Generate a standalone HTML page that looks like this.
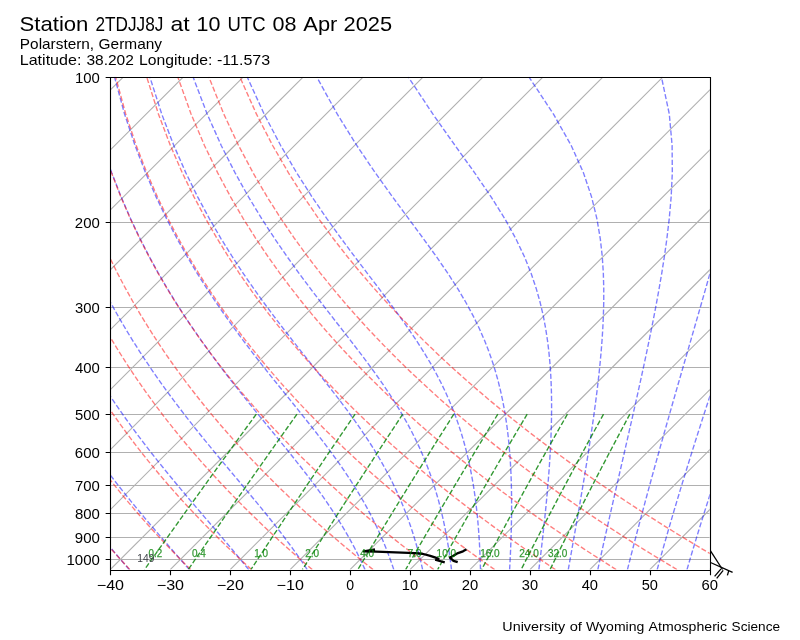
<!DOCTYPE html>
<html><head><meta charset="utf-8"><style>html,body{margin:0;padding:0;background:#fff;}svg{display:block;will-change:transform;}</style></head>
<body><svg width="800" height="640" viewBox="0 0 800 640">
<rect width="800" height="640" fill="#fff"/>
<defs><clipPath id="c"><rect x="110.26" y="76.8" width="599.48" height="492.8"/></clipPath></defs>
<g clip-path="url(#c)">
<line x1="110.26" y1="77.5" x2="709.74" y2="77.5" stroke="#b0b0b0" stroke-width="1.11"/>
<line x1="110.26" y1="222.5" x2="709.74" y2="222.5" stroke="#b0b0b0" stroke-width="1.11"/>
<line x1="110.26" y1="307.5" x2="709.74" y2="307.5" stroke="#b0b0b0" stroke-width="1.11"/>
<line x1="110.26" y1="367.5" x2="709.74" y2="367.5" stroke="#b0b0b0" stroke-width="1.11"/>
<line x1="110.26" y1="414.5" x2="709.74" y2="414.5" stroke="#b0b0b0" stroke-width="1.11"/>
<line x1="110.26" y1="452.5" x2="709.74" y2="452.5" stroke="#b0b0b0" stroke-width="1.11"/>
<line x1="110.26" y1="485.5" x2="709.74" y2="485.5" stroke="#b0b0b0" stroke-width="1.11"/>
<line x1="110.26" y1="513.5" x2="709.74" y2="513.5" stroke="#b0b0b0" stroke-width="1.11"/>
<line x1="110.26" y1="537.5" x2="709.74" y2="537.5" stroke="#b0b0b0" stroke-width="1.11"/>
<line x1="110.26" y1="559.5" x2="709.74" y2="559.5" stroke="#b0b0b0" stroke-width="1.11"/>
<line x1="-429.27" y1="569.6" x2="63.53" y2="76.8" stroke="#b0b0b0" stroke-width="1.11"/>
<line x1="-369.32" y1="569.6" x2="123.48" y2="76.8" stroke="#b0b0b0" stroke-width="1.11"/>
<line x1="-309.38" y1="569.6" x2="183.42" y2="76.8" stroke="#b0b0b0" stroke-width="1.11"/>
<line x1="-249.43" y1="569.6" x2="243.37" y2="76.8" stroke="#b0b0b0" stroke-width="1.11"/>
<line x1="-189.48" y1="569.6" x2="303.32" y2="76.8" stroke="#b0b0b0" stroke-width="1.11"/>
<line x1="-129.53" y1="569.6" x2="363.27" y2="76.8" stroke="#b0b0b0" stroke-width="1.11"/>
<line x1="-69.58" y1="569.6" x2="423.22" y2="76.8" stroke="#b0b0b0" stroke-width="1.11"/>
<line x1="-9.64" y1="569.6" x2="483.16" y2="76.8" stroke="#b0b0b0" stroke-width="1.11"/>
<line x1="50.31" y1="569.6" x2="543.11" y2="76.8" stroke="#b0b0b0" stroke-width="1.11"/>
<line x1="110.26" y1="569.6" x2="603.06" y2="76.8" stroke="#b0b0b0" stroke-width="1.11"/>
<line x1="170.21" y1="569.6" x2="663.01" y2="76.8" stroke="#b0b0b0" stroke-width="1.11"/>
<line x1="230.16" y1="569.6" x2="722.96" y2="76.8" stroke="#b0b0b0" stroke-width="1.11"/>
<line x1="290.1" y1="569.6" x2="782.9" y2="76.8" stroke="#b0b0b0" stroke-width="1.11"/>
<line x1="350.05" y1="569.6" x2="842.85" y2="76.8" stroke="#b0b0b0" stroke-width="1.11"/>
<line x1="410" y1="569.6" x2="902.8" y2="76.8" stroke="#b0b0b0" stroke-width="1.11"/>
<line x1="469.95" y1="569.6" x2="962.75" y2="76.8" stroke="#b0b0b0" stroke-width="1.11"/>
<line x1="529.9" y1="569.6" x2="1022.7" y2="76.8" stroke="#b0b0b0" stroke-width="1.11"/>
<line x1="589.84" y1="569.6" x2="1082.64" y2="76.8" stroke="#b0b0b0" stroke-width="1.11"/>
<line x1="649.79" y1="569.6" x2="1142.59" y2="76.8" stroke="#b0b0b0" stroke-width="1.11"/>
<line x1="709.74" y1="569.6" x2="1202.54" y2="76.8" stroke="#b0b0b0" stroke-width="1.11"/>
<g fill="none" stroke="#0000ff" stroke-opacity="0.5" stroke-width="1.39" stroke-dasharray="5.14 2.22">
<polyline points="129.34,569.6 125.94,565.69 122.5,561.71 119.01,557.66 115.48,553.52 111.9,549.3 108.28,544.99 104.61,540.59 100.9,536.1 97.15,531.51 93.35,526.82 89.51,522.02 85.62,517.1 81.7,512.07 77.73,506.92 73.72,501.63 69.66,496.21 65.56,490.65 61.43,484.93 57.24,479.05 53.02,473 48.75,466.78 44.45,460.36 40.1,453.74 35.71,446.9 31.27,439.83 26.8,432.52 22.28,424.94 17.73,417.08 13.14,408.91 8.51,400.41 3.84,391.55 -0.86,382.3 -5.58,372.62 -10.34,362.47 -15.12,351.81 -19.91,340.57 -24.71,328.7 -29.51,316.11 -34.29,302.73 -39.03,288.42 -43.71,273.07 -48.29,256.5 -52.74,238.52 -56.98,218.84 -60.93,197.12 -64.45,172.88 -67.34,145.48 -69.3,113.94 -69.8,76.8"/>
<polyline points="189.37,569.6 185.96,565.69 182.48,561.71 178.93,557.66 175.32,553.52 171.64,549.3 167.89,544.99 164.08,540.59 160.2,536.1 156.26,531.51 152.25,526.82 148.17,522.02 144.04,517.1 139.84,512.07 135.57,506.92 131.25,501.63 126.86,496.21 122.41,490.65 117.9,484.93 113.33,479.05 108.7,473 104.01,466.78 99.26,460.36 94.45,453.74 89.59,446.9 84.66,439.83 79.68,432.52 74.64,424.94 69.54,417.08 64.38,408.91 59.17,400.41 53.9,391.55 48.58,382.3 43.21,372.62 37.79,362.47 32.32,351.81 26.8,340.57 21.25,328.7 15.68,316.11 10.08,302.73 4.48,288.42 -1.1,273.07 -6.64,256.5 -12.09,238.52 -17.41,218.84 -22.51,197.12 -27.28,172.88 -31.53,145.48 -35,113.94 -37.2,76.8"/>
<polyline points="248.71,569.6 245.55,565.69 242.3,561.71 238.96,557.66 235.53,553.52 232,549.3 228.37,544.99 224.65,540.59 220.83,536.1 216.91,531.51 212.89,526.82 208.78,522.02 204.57,517.1 200.26,512.07 195.85,506.92 191.36,501.63 186.76,496.21 182.07,490.65 177.29,484.93 172.42,479.05 167.46,473 162.41,466.78 157.27,460.36 152.04,453.74 146.73,446.9 141.33,439.83 135.85,432.52 130.29,424.94 124.64,417.08 118.91,408.91 113.1,400.41 107.2,391.55 101.23,382.3 95.18,372.62 89.06,362.47 82.85,351.81 76.58,340.57 70.23,328.7 63.82,316.11 57.36,302.73 50.85,288.42 44.31,273.07 37.76,256.5 31.23,238.52 24.77,218.84 18.43,197.12 12.34,172.88 6.62,145.48 1.55,113.94 -2.45,76.8"/>
<polyline points="307.2,569.6 304.62,565.69 301.93,561.71 299.14,557.66 296.24,553.52 293.22,549.3 290.08,544.99 286.82,540.59 283.43,536.1 279.91,531.51 276.27,526.82 272.48,522.02 268.56,517.1 264.49,512.07 260.28,506.92 255.93,501.63 251.44,496.21 246.8,490.65 242.01,484.93 237.08,479.05 232,473 226.79,466.78 221.43,460.36 215.93,453.74 210.29,446.9 204.51,439.83 198.61,432.52 192.57,424.94 186.41,417.08 180.12,408.91 173.7,400.41 167.16,391.55 160.51,382.3 153.73,372.62 146.84,362.47 139.83,351.81 132.71,340.57 125.48,328.7 118.15,316.11 110.71,302.73 103.17,288.42 95.55,273.07 87.86,256.5 80.11,238.52 72.36,218.84 64.64,197.12 57.04,172.88 49.69,145.48 42.8,113.94 36.77,76.8"/>
<polyline points="365.01,569.6 363.24,565.69 361.39,561.71 359.45,557.66 357.4,553.52 355.25,549.3 352.99,544.99 350.6,540.59 348.1,536.1 345.46,531.51 342.68,526.82 339.75,522.02 336.66,517.1 333.42,512.07 330,506.92 326.4,501.63 322.61,496.21 318.63,490.65 314.44,484.93 310.04,479.05 305.43,473 300.6,466.78 295.54,460.36 290.25,453.74 284.73,446.9 278.98,439.83 273.01,432.52 266.8,424.94 260.36,417.08 253.7,408.91 246.83,400.41 239.74,391.55 232.45,382.3 224.95,372.62 217.26,362.47 209.37,351.81 201.3,340.57 193.05,328.7 184.62,316.11 176.02,302.73 167.25,288.42 158.32,273.07 149.23,256.5 140.01,238.52 130.67,218.84 121.25,197.12 111.81,172.88 102.45,145.48 93.35,113.94 84.81,76.8"/>
<polyline points="393.8,569.6 392.48,565.69 391.09,561.71 389.62,557.66 388.07,553.52 386.43,549.3 384.7,544.99 382.86,540.59 380.91,536.1 378.85,531.51 376.66,526.82 374.34,522.02 371.88,517.1 369.26,512.07 366.48,506.92 363.52,501.63 360.38,496.21 357.04,490.65 353.49,484.93 349.72,479.05 345.71,473 341.46,466.78 336.94,460.36 332.16,453.74 327.09,446.9 321.74,439.83 316.09,432.52 310.15,424.94 303.9,417.08 297.34,408.91 290.48,400.41 283.33,391.55 275.88,382.3 268.14,372.62 260.13,362.47 251.85,351.81 243.31,340.57 234.52,328.7 225.49,316.11 216.22,302.73 206.72,288.42 197.01,273.07 187.08,256.5 176.95,238.52 166.64,218.84 156.18,197.12 145.61,172.88 135.01,145.48 124.53,113.94 114.46,76.8"/>
<polyline points="422.61,569.6 421.73,565.69 420.79,561.71 419.8,557.66 418.75,553.52 417.62,549.3 416.43,544.99 415.15,540.59 413.79,536.1 412.34,531.51 410.79,526.82 409.13,522.02 407.35,517.1 405.45,512.07 403.41,506.92 401.22,501.63 398.87,496.21 396.34,490.65 393.63,484.93 390.71,479.05 387.57,473 384.18,466.78 380.54,460.36 376.62,453.74 372.4,446.9 367.85,439.83 362.97,432.52 357.74,424.94 352.12,417.08 346.12,408.91 339.71,400.41 332.89,391.55 325.66,382.3 318.01,372.62 309.95,362.47 301.48,351.81 292.63,340.57 283.4,328.7 273.81,316.11 263.87,302.73 253.6,288.42 243.02,273.07 232.13,256.5 220.95,238.52 209.5,218.84 197.8,197.12 185.88,172.88 173.81,145.48 161.7,113.94 149.79,76.8"/>
<polyline points="451.49,569.6 451.02,565.69 450.51,561.71 449.97,557.66 449.38,553.52 448.74,549.3 448.06,544.99 447.33,540.59 446.53,536.1 445.67,531.51 444.74,526.82 443.74,522.02 442.65,517.1 441.47,512.07 440.19,506.92 438.8,501.63 437.29,496.21 435.65,490.65 433.86,484.93 431.91,479.05 429.79,473 427.47,466.78 424.93,460.36 422.15,453.74 419.11,446.9 415.78,439.83 412.12,432.52 408.11,424.94 403.72,417.08 398.9,408.91 393.62,400.41 387.85,391.55 381.55,382.3 374.7,372.62 367.27,362.47 359.24,351.81 350.61,340.57 341.39,328.7 331.57,316.11 321.2,302.73 310.28,288.42 298.86,273.07 286.96,256.5 274.6,238.52 261.83,218.84 248.65,197.12 235.1,172.88 221.24,145.48 207.14,113.94 192.99,76.8"/>
<polyline points="480.48,569.6 480.38,565.69 480.25,561.71 480.11,557.66 479.94,553.52 479.75,549.3 479.53,544.99 479.28,540.59 478.99,536.1 478.67,531.51 478.3,526.82 477.89,522.02 477.43,517.1 476.92,512.07 476.34,506.92 475.7,501.63 474.98,496.21 474.18,490.65 473.29,484.93 472.29,479.05 471.17,473 469.93,466.78 468.53,460.36 466.98,453.74 465.23,446.9 463.28,439.83 461.08,432.52 458.62,424.94 455.85,417.08 452.73,408.91 449.21,400.41 445.24,391.55 440.77,382.3 435.72,372.62 430.03,362.47 423.62,351.81 416.43,340.57 408.4,328.7 399.48,316.11 389.63,302.73 378.85,288.42 367.15,273.07 354.58,256.5 341.19,238.52 327.04,218.84 312.19,197.12 296.71,172.88 280.65,145.48 264.07,113.94 247.12,76.8"/>
<polyline points="509.61,569.6 509.82,565.69 510.03,561.71 510.23,557.66 510.42,553.52 510.61,549.3 510.78,544.99 510.95,540.59 511.1,536.1 511.23,531.51 511.35,526.82 511.45,522.02 511.53,517.1 511.58,512.07 511.61,506.92 511.6,501.63 511.56,496.21 511.48,490.65 511.36,484.93 511.18,479.05 510.95,473 510.64,466.78 510.27,460.36 509.8,453.74 509.23,446.9 508.55,439.83 507.73,432.52 506.76,424.94 505.6,417.08 504.23,408.91 502.62,400.41 500.71,391.55 498.47,382.3 495.81,372.62 492.68,362.47 488.97,351.81 484.59,340.57 479.41,328.7 473.29,316.11 466.06,302.73 457.58,288.42 447.7,273.07 436.29,256.5 423.29,238.52 408.74,218.84 392.7,197.12 375.33,172.88 356.77,145.48 337.17,113.94 316.67,76.8"/>
<polyline points="538.88,569.6 539.36,565.69 539.84,561.71 540.33,557.66 540.82,553.52 541.32,549.3 541.82,544.99 542.32,540.59 542.83,536.1 543.34,531.51 543.85,526.82 544.37,522.02 544.88,517.1 545.39,512.07 545.91,506.92 546.42,501.63 546.92,496.21 547.42,490.65 547.91,484.93 548.39,479.05 548.86,473 549.31,466.78 549.74,460.36 550.14,453.74 550.52,446.9 550.85,439.83 551.13,432.52 551.36,424.94 551.52,417.08 551.6,408.91 551.57,400.41 551.42,391.55 551.11,382.3 550.62,372.62 549.89,362.47 548.88,351.81 547.51,340.57 545.7,328.7 543.32,316.11 540.22,302.73 536.2,288.42 531.01,273.07 524.33,256.5 515.76,238.52 504.88,218.84 491.27,197.12 474.68,172.88 455.09,145.48 432.78,113.94 408.19,76.8"/>
<polyline points="568.28,569.6 568.98,565.69 569.68,561.71 570.4,557.66 571.13,553.52 571.88,549.3 572.64,544.99 573.42,540.59 574.21,536.1 575.01,531.51 575.84,526.82 576.68,522.02 577.53,517.1 578.4,512.07 579.3,506.92 580.2,501.63 581.13,496.21 582.07,490.65 583.03,484.93 584.01,479.05 585.01,473 586.03,466.78 587.07,460.36 588.12,453.74 589.19,446.9 590.27,439.83 591.37,432.52 592.47,424.94 593.59,417.08 594.71,408.91 595.84,400.41 596.95,391.55 598.05,382.3 599.13,372.62 600.16,362.47 601.13,351.81 602.02,340.57 602.78,328.7 603.37,316.11 603.73,302.73 603.76,288.42 603.33,273.07 602.26,256.5 600.26,238.52 596.92,218.84 591.64,197.12 583.49,172.88 571.22,145.48 553.35,113.94 528.84,76.8"/>
<polyline points="597.81,569.6 598.67,565.69 599.55,561.71 600.45,557.66 601.37,553.52 602.31,549.3 603.27,544.99 604.26,540.59 605.27,536.1 606.3,531.51 607.36,526.82 608.45,522.02 609.57,517.1 610.71,512.07 611.88,506.92 613.09,501.63 614.33,496.21 615.6,490.65 616.91,484.93 618.26,479.05 619.65,473 621.08,466.78 622.55,460.36 624.07,453.74 625.63,446.9 627.25,439.83 628.92,432.52 630.64,424.94 632.42,417.08 634.27,408.91 636.17,400.41 638.15,391.55 640.19,382.3 642.3,372.62 644.49,362.47 646.76,351.81 649.1,340.57 651.51,328.7 654,316.11 656.55,302.73 659.15,288.42 661.77,273.07 664.38,256.5 666.9,238.52 669.22,218.84 671.14,197.12 672.32,172.88 672.11,145.48 669.29,113.94 661.39,76.8"/>
<polyline points="627.45,569.6 628.44,565.69 629.45,561.71 630.48,557.66 631.54,553.52 632.63,549.3 633.74,544.99 634.89,540.59 636.06,536.1 637.26,531.51 638.5,526.82 639.77,522.02 641.08,517.1 642.42,512.07 643.8,506.92 645.22,501.63 646.69,496.21 648.2,490.65 649.76,484.93 651.37,479.05 653.04,473 654.76,466.78 656.54,460.36 658.39,453.74 660.3,446.9 662.28,439.83 664.34,432.52 666.49,424.94 668.72,417.08 671.05,408.91 673.48,400.41 676.02,391.55 678.68,382.3 681.46,372.62 684.39,362.47 687.47,351.81 690.71,340.57 694.14,328.7 697.77,316.11 701.62,302.73 705.72,288.42 710.08,273.07 714.75,256.5 719.74,238.52 725.11,218.84 730.86,197.12 737.03,172.88 743.59,145.48 750.42,113.94 757.11,76.8"/>
<polyline points="657.17,569.6 658.26,565.69 659.36,561.71 660.5,557.66 661.66,553.52 662.86,549.3 664.08,544.99 665.34,540.59 666.63,536.1 667.95,531.51 669.31,526.82 670.71,522.02 672.16,517.1 673.64,512.07 675.17,506.92 676.75,501.63 678.37,496.21 680.05,490.65 681.79,484.93 683.58,479.05 685.44,473 687.36,466.78 689.35,460.36 691.42,453.74 693.57,446.9 695.8,439.83 698.13,432.52 700.56,424.94 703.09,417.08 705.74,408.91 708.51,400.41 711.41,391.55 714.47,382.3 717.69,372.62 721.08,362.47 724.67,351.81 728.47,340.57 732.52,328.7 736.84,316.11 741.46,302.73 746.42,288.42 751.78,273.07 757.6,256.5 763.94,238.52 770.91,218.84 778.62,197.12 787.24,172.88 796.96,145.48 808.07,113.94 820.97,76.8"/>
<polyline points="686.98,569.6 688.12,565.69 689.3,561.71 690.5,557.66 691.74,553.52 693,549.3 694.3,544.99 695.63,540.59 697,536.1 698.41,531.51 699.86,526.82 701.35,522.02 702.88,517.1 704.46,512.07 706.09,506.92 707.77,501.63 709.51,496.21 711.3,490.65 713.15,484.93 715.07,479.05 717.05,473 719.11,466.78 721.24,460.36 723.45,453.74 725.76,446.9 728.15,439.83 730.65,432.52 733.26,424.94 735.99,417.08 738.84,408.91 741.83,400.41 744.97,391.55 748.27,382.3 751.76,372.62 755.44,362.47 759.35,351.81 763.5,340.57 767.92,328.7 772.65,316.11 777.72,302.73 783.2,288.42 789.13,273.07 795.6,256.5 802.69,238.52 810.53,218.84 819.28,197.12 829.15,172.88 840.44,145.48 853.57,113.94 869.21,76.8"/>
<polyline points="716.84,569.6 718.03,565.69 719.25,561.71 720.49,557.66 721.77,553.52 723.08,549.3 724.43,544.99 725.81,540.59 727.23,536.1 728.69,531.51 730.19,526.82 731.74,522.02 733.33,517.1 734.97,512.07 736.66,506.92 738.41,501.63 740.21,496.21 742.07,490.65 743.99,484.93 745.98,479.05 748.04,473 750.18,466.78 752.4,460.36 754.71,453.74 757.1,446.9 759.6,439.83 762.21,432.52 764.92,424.94 767.77,417.08 770.74,408.91 773.86,400.41 777.14,391.55 780.6,382.3 784.25,372.62 788.1,362.47 792.19,351.81 796.54,340.57 801.18,328.7 806.15,316.11 811.49,302.73 817.26,288.42 823.51,273.07 830.35,256.5 837.85,238.52 846.17,218.84 855.48,197.12 866,172.88 878.09,145.48 892.23,113.94 909.18,76.8"/>
</g>
<g fill="none" stroke="#ff0000" stroke-opacity="0.5" stroke-width="1.39" stroke-dasharray="5.14 2.22">
<polyline points="129.88,569.6 126.26,565.69 122.61,561.71 118.93,557.66 115.23,553.52 111.49,549.3 107.73,544.99 103.93,540.59 100.11,536.1 96.25,531.51 92.36,526.82 88.44,522.02 84.49,517.1 80.5,512.07 76.48,506.92 72.42,501.63 68.33,496.21 64.2,490.65 60.04,484.93 55.84,479.05 51.6,473 47.33,466.78 43.01,460.36 38.66,453.74 34.27,446.9 29.84,439.83 25.37,432.52 20.87,424.94 16.32,417.08 11.74,408.91 7.13,400.41 2.47,391.55 -2.21,382.3 -6.92,372.62 -11.66,362.47 -16.42,351.81 -21.19,340.57 -25.97,328.7 -30.75,316.11 -35.5,302.73 -40.22,288.42 -44.88,273.07 -49.44,256.5 -53.85,238.52 -58.07,218.84 -61.98,197.12 -65.47,172.88 -68.32,145.48 -70.24,113.94 -70.7,76.8"/>
<polyline points="190.67,569.6 186.73,565.69 182.75,561.71 178.74,557.66 174.7,553.52 170.62,549.3 166.51,544.99 162.37,540.59 158.19,536.1 153.97,531.51 149.71,526.82 145.41,522.02 141.08,517.1 136.71,512.07 132.29,506.92 127.83,501.63 123.33,496.21 118.79,490.65 114.2,484.93 109.57,479.05 104.89,473 100.16,466.78 95.39,460.36 90.57,453.74 85.7,446.9 80.77,439.83 75.8,432.52 70.78,424.94 65.7,417.08 60.57,408.91 55.39,400.41 50.16,391.55 44.88,382.3 39.55,372.62 34.17,362.47 28.75,351.81 23.29,340.57 17.8,328.7 12.28,316.11 6.75,302.73 1.21,288.42 -4.3,273.07 -9.77,256.5 -15.15,238.52 -20.38,218.84 -25.4,197.12 -30.07,172.88 -34.23,145.48 -37.58,113.94 -39.65,76.8"/>
<polyline points="251.46,569.6 247.19,565.69 242.89,561.71 238.55,557.66 234.17,553.52 229.75,549.3 225.3,544.99 220.8,540.59 216.26,536.1 211.68,531.51 207.06,526.82 202.39,522.02 197.67,517.1 192.91,512.07 188.1,506.92 183.24,501.63 178.34,496.21 173.38,490.65 168.36,484.93 163.3,479.05 158.18,473 153,466.78 147.77,460.36 142.48,453.74 137.12,446.9 131.71,439.83 126.23,432.52 120.69,424.94 115.08,417.08 109.4,408.91 103.66,400.41 97.85,391.55 91.97,382.3 86.03,372.62 80.01,362.47 73.93,351.81 67.78,340.57 61.57,328.7 55.31,316.11 48.99,302.73 42.64,288.42 36.27,273.07 29.9,256.5 23.56,238.52 17.3,218.84 11.19,197.12 5.33,172.88 -0.13,145.48 -4.92,113.94 -8.6,76.8"/>
<polyline points="312.25,569.6 307.66,565.69 303.03,561.71 298.36,557.66 293.64,553.52 288.88,549.3 284.08,544.99 279.23,540.59 274.34,536.1 269.39,531.51 264.4,526.82 259.36,522.02 254.26,517.1 249.11,512.07 243.91,506.92 238.65,501.63 233.34,496.21 227.96,490.65 222.53,484.93 217.03,479.05 211.47,473 205.84,466.78 200.15,460.36 194.38,453.74 188.55,446.9 182.64,439.83 176.66,432.52 170.59,424.94 164.45,417.08 158.23,408.91 151.93,400.41 145.54,391.55 139.06,382.3 132.5,372.62 125.84,362.47 119.1,351.81 112.27,340.57 105.34,328.7 98.34,316.11 91.24,302.73 84.08,288.42 76.85,273.07 69.57,256.5 62.27,238.52 54.99,218.84 47.77,197.12 40.72,172.88 33.97,145.48 27.75,113.94 22.45,76.8"/>
<polyline points="373.04,569.6 368.13,565.69 363.17,561.71 358.16,557.66 353.11,553.52 348.01,549.3 342.87,544.99 337.67,540.59 332.41,536.1 327.11,531.51 321.75,526.82 316.33,522.02 310.85,517.1 305.32,512.07 299.72,506.92 294.06,501.63 288.34,496.21 282.55,490.65 276.69,484.93 270.76,479.05 264.76,473 258.68,466.78 252.52,460.36 246.29,453.74 239.97,446.9 233.57,439.83 227.08,432.52 220.5,424.94 213.83,417.08 207.06,408.91 200.2,400.41 193.23,391.55 186.15,382.3 178.97,372.62 171.68,362.47 164.27,351.81 156.75,340.57 149.12,328.7 141.36,316.11 133.49,302.73 125.51,288.42 117.42,273.07 109.24,256.5 100.98,238.52 92.67,218.84 84.36,197.12 76.12,172.88 68.07,145.48 60.41,113.94 53.5,76.8"/>
<polyline points="433.83,569.6 428.59,565.69 423.31,561.71 417.97,557.66 412.59,553.52 407.14,549.3 401.65,544.99 396.1,540.59 390.49,536.1 384.82,531.51 379.09,526.82 373.3,522.02 367.44,517.1 361.52,512.07 355.53,506.92 349.47,501.63 343.34,496.21 337.14,490.65 330.85,484.93 324.49,479.05 318.05,473 311.52,466.78 304.9,460.36 298.2,453.74 291.4,446.9 284.51,439.83 277.51,432.52 270.41,424.94 263.21,417.08 255.89,408.91 248.46,400.41 240.92,391.55 233.24,382.3 225.44,372.62 217.51,362.47 209.45,351.81 201.24,340.57 192.89,328.7 184.39,316.11 175.74,302.73 166.95,288.42 158,273.07 148.91,256.5 139.69,238.52 130.35,218.84 120.94,197.12 111.51,172.88 102.16,145.48 93.07,113.94 84.55,76.8"/>
<polyline points="494.62,569.6 489.06,565.69 483.45,561.71 477.78,557.66 472.06,553.52 466.27,549.3 460.43,544.99 454.53,540.59 448.56,536.1 442.53,531.51 436.44,526.82 430.27,522.02 424.04,517.1 417.73,512.07 411.34,506.92 404.88,501.63 398.34,496.21 391.72,490.65 385.01,484.93 378.22,479.05 371.34,473 364.36,466.78 357.28,460.36 350.11,453.74 342.83,446.9 335.44,439.83 327.94,432.52 320.32,424.94 312.59,417.08 304.72,408.91 296.73,400.41 288.6,391.55 280.33,382.3 271.92,372.62 263.35,362.47 254.62,351.81 245.73,340.57 236.66,328.7 227.42,316.11 217.99,302.73 208.38,288.42 198.57,273.07 188.58,256.5 178.4,238.52 168.04,218.84 157.53,197.12 146.91,172.88 136.26,145.48 125.73,113.94 115.6,76.8"/>
<polyline points="555.41,569.6 549.53,565.69 543.59,561.71 537.59,557.66 531.53,553.52 525.41,549.3 519.22,544.99 512.96,540.59 506.64,536.1 500.25,531.51 493.78,526.82 487.24,522.02 480.63,517.1 473.93,512.07 467.15,506.92 460.29,501.63 453.35,496.21 446.31,490.65 439.18,484.93 431.95,479.05 424.62,473 417.2,466.78 409.66,460.36 402.01,453.74 394.25,446.9 386.37,439.83 378.37,432.52 370.23,424.94 361.96,417.08 353.55,408.91 345,400.41 336.29,391.55 327.42,382.3 318.39,372.62 309.18,362.47 299.79,351.81 290.21,340.57 280.43,328.7 270.45,316.11 260.24,302.73 249.81,288.42 239.15,273.07 228.25,256.5 217.1,238.52 205.72,218.84 194.11,197.12 182.3,172.88 170.36,145.48 158.4,113.94 146.65,76.8"/>
<polyline points="616.2,569.6 609.99,565.69 603.73,561.71 597.4,557.66 591,553.52 584.54,549.3 578,544.99 571.4,540.59 564.72,536.1 557.96,531.51 551.13,526.82 544.21,522.02 537.22,517.1 530.14,512.07 522.97,506.92 515.7,501.63 508.35,496.21 500.89,490.65 493.34,484.93 485.68,479.05 477.91,473 470.03,466.78 462.04,460.36 453.92,453.74 445.68,446.9 437.3,439.83 428.79,432.52 420.14,424.94 411.34,417.08 402.38,408.91 393.27,400.41 383.98,391.55 374.52,382.3 364.86,372.62 355.02,362.47 344.97,351.81 334.7,340.57 324.21,328.7 313.47,316.11 302.49,302.73 291.25,288.42 279.73,273.07 267.92,256.5 255.81,238.52 243.4,218.84 230.69,197.12 217.7,172.88 204.46,145.48 191.06,113.94 177.7,76.8"/>
<polyline points="676.99,569.6 670.46,565.69 663.87,561.71 657.2,557.66 650.47,553.52 643.67,549.3 636.79,544.99 629.83,540.59 622.79,536.1 615.67,531.51 608.47,526.82 601.19,522.02 593.81,517.1 586.34,512.07 578.78,506.92 571.11,501.63 563.35,496.21 555.48,490.65 547.5,484.93 539.41,479.05 531.2,473 522.87,466.78 514.42,460.36 505.83,453.74 497.1,446.9 488.24,439.83 479.22,432.52 470.05,424.94 460.72,417.08 451.22,408.91 441.53,400.41 431.67,391.55 421.61,382.3 411.34,372.62 400.85,362.47 390.14,351.81 379.19,340.57 367.98,328.7 356.5,316.11 344.74,302.73 332.68,288.42 320.3,273.07 307.59,256.5 294.52,238.52 281.09,218.84 267.28,197.12 253.09,172.88 238.55,145.48 223.72,113.94 208.75,76.8"/>
<polyline points="737.78,569.6 730.93,565.69 724.01,561.71 717.01,557.66 709.94,553.52 702.8,549.3 695.57,544.99 688.26,540.59 680.87,536.1 673.39,531.51 665.82,526.82 658.16,522.02 650.4,517.1 642.54,512.07 634.59,506.92 626.52,501.63 618.35,496.21 610.07,490.65 601.66,484.93 593.14,479.05 584.49,473 575.71,466.78 566.79,460.36 557.74,453.74 548.53,446.9 539.17,439.83 529.65,432.52 519.96,424.94 510.09,417.08 500.05,408.91 489.8,400.41 479.36,391.55 468.7,382.3 457.81,372.62 446.69,362.47 435.31,351.81 423.67,340.57 411.75,328.7 399.53,316.11 386.99,302.73 374.11,288.42 360.88,273.07 347.26,256.5 333.23,238.52 318.77,218.84 303.86,197.12 288.49,172.88 272.65,145.48 256.38,113.94 239.8,76.8"/>
</g>
<g fill="none" stroke="#008000" stroke-opacity="0.8" stroke-width="1.39" stroke-dasharray="5.14 2.22">
<polyline points="256.3,414.11 252.91,418.76 249.6,423.31 246.36,427.76 243.19,432.13 240.08,436.4 237.04,440.59 234.06,444.69 231.15,448.72 228.28,452.67 225.48,456.55 222.72,460.36 220.02,464.1 217.36,467.77 214.76,471.38 212.19,474.93 209.68,478.42 207.2,481.86 204.77,485.23 202.38,488.56 200.02,491.83 197.7,495.05 195.42,498.23 193.18,501.35 190.97,504.43 188.79,507.47 186.64,510.46 184.53,513.41 182.45,516.32 180.39,519.19 178.37,522.02 176.37,524.81 174.4,527.57 172.46,530.29 170.54,532.97 168.65,535.62 166.78,538.24 164.94,540.83 163.11,543.38 161.32,545.91 159.54,548.4 157.79,550.86 156.05,553.3 154.34,555.71 152.65,558.09 150.98,560.44 149.33,562.77 147.69,565.07 146.08,567.35 144.48,569.6"/>
<polyline points="296.99,414.11 293.68,418.76 290.45,423.31 287.29,427.76 284.2,432.13 281.18,436.4 278.22,440.59 275.32,444.69 272.48,448.72 269.69,452.67 266.95,456.55 264.27,460.36 261.64,464.1 259.06,467.77 256.52,471.38 254.03,474.93 251.58,478.42 249.17,481.86 246.8,485.23 244.47,488.56 242.18,491.83 239.93,495.05 237.71,498.23 235.53,501.35 233.38,504.43 231.26,507.47 229.17,510.46 227.12,513.41 225.09,516.32 223.09,519.19 221.12,522.02 219.18,524.81 217.27,527.57 215.38,530.29 213.52,532.97 211.68,535.62 209.86,538.24 208.07,540.83 206.3,543.38 204.55,545.91 202.83,548.4 201.13,550.86 199.44,553.3 197.78,555.71 196.14,558.09 194.51,560.44 192.91,562.77 191.32,565.07 189.75,567.35 188.2,569.6"/>
<polyline points="355.12,414.11 351.94,418.76 348.84,423.31 345.81,427.76 342.84,432.13 339.93,436.4 337.09,440.59 334.3,444.69 331.57,448.72 328.9,452.67 326.27,456.55 323.7,460.36 321.18,464.1 318.7,467.77 316.26,471.38 313.87,474.93 311.52,478.42 309.21,481.86 306.94,485.23 304.71,488.56 302.52,491.83 300.36,495.05 298.23,498.23 296.14,501.35 294.08,504.43 292.05,507.47 290.05,510.46 288.08,513.41 286.14,516.32 284.23,519.19 282.35,522.02 280.49,524.81 278.66,527.57 276.85,530.29 275.07,532.97 273.31,535.62 271.57,538.24 269.86,540.83 268.16,543.38 266.49,545.91 264.84,548.4 263.22,550.86 261.61,553.3 260.02,555.71 258.45,558.09 256.89,560.44 255.36,562.77 253.85,565.07 252.35,567.35 250.86,569.6"/>
<polyline points="402.75,414.11 399.69,418.76 396.69,423.31 393.76,427.76 390.9,432.13 388.09,436.4 385.35,440.59 382.66,444.69 380.03,448.72 377.45,452.67 374.92,456.55 372.44,460.36 370.01,464.1 367.62,467.77 365.27,471.38 362.97,474.93 360.7,478.42 358.48,481.86 356.29,485.23 354.14,488.56 352.03,491.83 349.95,495.05 347.9,498.23 345.89,501.35 343.91,504.43 341.95,507.47 340.03,510.46 338.14,513.41 336.27,516.32 334.43,519.19 332.62,522.02 330.83,524.81 329.07,527.57 327.33,530.29 325.62,532.97 323.93,535.62 322.26,538.24 320.61,540.83 318.99,543.38 317.38,545.91 315.8,548.4 314.23,550.86 312.69,553.3 311.16,555.71 309.65,558.09 308.16,560.44 306.69,562.77 305.23,565.07 303.79,567.35 302.37,569.6"/>
<polyline points="453.86,414.11 450.92,418.76 448.04,423.31 445.23,427.76 442.48,432.13 439.79,436.4 437.16,440.59 434.58,444.69 432.06,448.72 429.58,452.67 427.16,456.55 424.78,460.36 422.44,464.1 420.16,467.77 417.91,471.38 415.7,474.93 413.53,478.42 411.4,481.86 409.31,485.23 407.25,488.56 405.23,491.83 403.24,495.05 401.28,498.23 399.36,501.35 397.46,504.43 395.59,507.47 393.75,510.46 391.94,513.41 390.16,516.32 388.4,519.19 386.67,522.02 384.96,524.81 383.28,527.57 381.62,530.29 379.98,532.97 378.37,535.62 376.77,538.24 375.2,540.83 373.65,543.38 372.12,545.91 370.6,548.4 369.11,550.86 367.64,553.3 366.18,555.71 364.74,558.09 363.32,560.44 361.92,562.77 360.53,565.07 359.16,567.35 357.8,569.6"/>
<polyline points="497.84,414.11 495,418.76 492.23,423.31 489.53,427.76 486.88,432.13 484.29,436.4 481.76,440.59 479.28,444.69 476.85,448.72 474.47,452.67 472.14,456.55 469.85,460.36 467.61,464.1 465.41,467.77 463.25,471.38 461.13,474.93 459.05,478.42 457,481.86 454.99,485.23 453.02,488.56 451.08,491.83 449.17,495.05 447.29,498.23 445.44,501.35 443.62,504.43 441.83,507.47 440.06,510.46 438.33,513.41 436.62,516.32 434.93,519.19 433.27,522.02 431.63,524.81 430.02,527.57 428.43,530.29 426.86,532.97 425.31,535.62 423.79,538.24 422.28,540.83 420.8,543.38 419.33,545.91 417.88,548.4 416.45,550.86 415.04,553.3 413.65,555.71 412.27,558.09 410.91,560.44 409.57,562.77 408.24,565.07 406.93,567.35 405.63,569.6"/>
<polyline points="527.19,414.11 524.42,418.76 521.73,423.31 519.09,427.76 516.52,432.13 514,436.4 511.53,440.59 509.12,444.69 506.76,448.72 504.44,452.67 502.17,456.55 499.95,460.36 497.77,464.1 495.63,467.77 493.53,471.38 491.47,474.93 489.45,478.42 487.46,481.86 485.51,485.23 483.59,488.56 481.7,491.83 479.85,495.05 478.02,498.23 476.23,501.35 474.46,504.43 472.72,507.47 471.01,510.46 469.32,513.41 467.66,516.32 466.03,519.19 464.42,522.02 462.83,524.81 461.26,527.57 459.72,530.29 458.2,532.97 456.7,535.62 455.22,538.24 453.76,540.83 452.32,543.38 450.89,545.91 449.49,548.4 448.11,550.86 446.74,553.3 445.39,555.71 444.05,558.09 442.74,560.44 441.44,562.77 440.15,565.07 438.88,567.35 437.62,569.6"/>
<polyline points="567.43,414.11 564.78,418.76 562.18,423.31 559.65,427.76 557.17,432.13 554.75,436.4 552.38,440.59 550.06,444.69 547.79,448.72 545.57,452.67 543.39,456.55 541.25,460.36 539.16,464.1 537.11,467.77 535.09,471.38 533.11,474.93 531.17,478.42 529.27,481.86 527.39,485.23 525.55,488.56 523.74,491.83 521.97,495.05 520.22,498.23 518.5,501.35 516.8,504.43 515.14,507.47 513.5,510.46 511.89,513.41 510.3,516.32 508.73,519.19 507.19,522.02 505.67,524.81 504.17,527.57 502.7,530.29 501.24,532.97 499.81,535.62 498.39,538.24 497,540.83 495.62,543.38 494.26,545.91 492.92,548.4 491.6,550.86 490.29,553.3 489,555.71 487.73,558.09 486.47,560.44 485.22,562.77 484,565.07 482.79,567.35 481.59,569.6"/>
<polyline points="603.55,414.11 600.99,418.76 598.49,423.31 596.05,427.76 593.66,432.13 591.33,436.4 589.04,440.59 586.81,444.69 584.63,448.72 582.49,452.67 580.39,456.55 578.34,460.36 576.33,464.1 574.35,467.77 572.41,471.38 570.51,474.93 568.65,478.42 566.82,481.86 565.02,485.23 563.25,488.56 561.51,491.83 559.81,495.05 558.13,498.23 556.48,501.35 554.85,504.43 553.25,507.47 551.68,510.46 550.13,513.41 548.61,516.32 547.11,519.19 545.63,522.02 544.17,524.81 542.74,527.57 541.33,530.29 539.93,532.97 538.56,535.62 537.2,538.24 535.87,540.83 534.55,543.38 533.25,545.91 531.96,548.4 530.7,550.86 529.45,553.3 528.21,555.71 526.99,558.09 525.79,560.44 524.6,562.77 523.43,565.07 522.27,567.35 521.13,569.6"/>
<polyline points="629.89,414.11 627.4,418.76 624.97,423.31 622.6,427.76 620.28,432.13 618.02,436.4 615.8,440.59 613.63,444.69 611.51,448.72 609.43,452.67 607.4,456.55 605.41,460.36 603.45,464.1 601.54,467.77 599.66,471.38 597.81,474.93 596,478.42 594.23,481.86 592.48,485.23 590.77,488.56 589.09,491.83 587.43,495.05 585.81,498.23 584.21,501.35 582.64,504.43 581.09,507.47 579.57,510.46 578.07,513.41 576.59,516.32 575.14,519.19 573.71,522.02 572.3,524.81 570.91,527.57 569.54,530.29 568.19,532.97 566.87,535.62 565.55,538.24 564.26,540.83 562.99,543.38 561.73,545.91 560.49,548.4 559.27,550.86 558.06,553.3 556.87,555.71 555.69,558.09 554.53,560.44 553.38,562.77 552.25,565.07 551.13,567.35 550.02,569.6"/>
</g>
</g>
<g fill="none" stroke="#000" stroke-width="2.3" stroke-linejoin="round" stroke-linecap="butt">
<polyline points="375,549.3 363.8,551.3 376,551.6 415,553.1 422.4,553.75 430.3,555.9 435.6,557.7 438.5,558.8 436,560 444.75,562.3"/>
<polyline points="466.5,549.3 463,551.3 458,553.1 452.5,556.2 450,557.6 453.5,560.8 457.7,562.2"/>
</g>
<g font-family="Liberation Sans, sans-serif" fill="#008000" stroke="#008000" stroke-width="0.25" opacity="0.8">
<text x="148.60" y="556.90" font-size="10.33" textLength="13.62" lengthAdjust="spacingAndGlyphs">0.2</text>
<text x="192.00" y="556.90" font-size="10.33" textLength="13.82" lengthAdjust="spacingAndGlyphs">0.4</text>
<text x="254.21" y="556.90" font-size="10.33" textLength="13.80" lengthAdjust="spacingAndGlyphs">1.0</text>
<text x="305.24" y="556.90" font-size="10.33" textLength="13.88" lengthAdjust="spacingAndGlyphs">2.0</text>
<text x="360.26" y="556.90" font-size="10.33" textLength="13.82" lengthAdjust="spacingAndGlyphs">4.0</text>
<text x="407.71" y="556.90" font-size="10.33" textLength="13.80" lengthAdjust="spacingAndGlyphs">7.0</text>
<text x="436.57" y="556.90" font-size="10.33" textLength="19.50" lengthAdjust="spacingAndGlyphs">10.0</text>
<text x="480.14" y="556.90" font-size="10.33" textLength="19.50" lengthAdjust="spacingAndGlyphs">16.0</text>
<text x="519.24" y="556.90" font-size="10.33" textLength="19.58" lengthAdjust="spacingAndGlyphs">24.0</text>
<text x="548.01" y="556.90" font-size="10.33" textLength="19.42" lengthAdjust="spacingAndGlyphs">32.0</text>
</g>
<g font-family="Liberation Sans, sans-serif" fill="#3c3f46">
<text x="137.20" y="562.00" font-size="10.33" textLength="17.17" lengthAdjust="spacingAndGlyphs">149</text>
</g>
<g fill="none" stroke="#000" stroke-width="1.3" stroke-linecap="butt">
<polyline points="710.5,550.9 722.5,569.5"/>
<line x1="721" y1="568.9" x2="714.6" y2="576.4"/>
<line x1="723.2" y1="570.4" x2="716.7" y2="578.4"/>
<polyline points="710.5,562.5 732.6,572.4"/>
<line x1="728.7" y1="570.9" x2="727.4" y2="575.4"/>
</g>
<path d="M110.5,77.5H710.5V570.5H110.5Z" fill="none" stroke="#000" stroke-width="1.11" stroke-linejoin="miter"/>
<path d="M110.5,77.5h-4.86 M110.5,222.5h-4.86 M110.5,307.5h-4.86 M110.5,367.5h-4.86 M110.5,414.5h-4.86 M110.5,452.5h-4.86 M110.5,485.5h-4.86 M110.5,513.5h-4.86 M110.5,537.5h-4.86 M110.5,559.5h-4.86 M110.5,570.5v4.86 M170.5,570.5v4.86 M230.5,570.5v4.86 M290.5,570.5v4.86 M350.5,570.5v4.86 M410.5,570.5v4.86 M470.5,570.5v4.86 M530.5,570.5v4.86 M590.5,570.5v4.86 M650.5,570.5v4.86 M710.5,570.5v4.86" stroke="#000" stroke-width="1.11" fill="none"/>
<g font-family="Liberation Sans, sans-serif" fill="#000">
<text x="74.99" y="82.70" font-size="14.20" textLength="24.85" lengthAdjust="spacingAndGlyphs">100</text>
<text x="74.88" y="227.97" font-size="14.20" textLength="24.96" lengthAdjust="spacingAndGlyphs">200</text>
<text x="75.10" y="312.95" font-size="14.20" textLength="24.73" lengthAdjust="spacingAndGlyphs">300</text>
<text x="74.96" y="373.24" font-size="14.20" textLength="24.88" lengthAdjust="spacingAndGlyphs">400</text>
<text x="75.08" y="420.01" font-size="14.20" textLength="24.75" lengthAdjust="spacingAndGlyphs">500</text>
<text x="74.82" y="458.22" font-size="14.20" textLength="25.02" lengthAdjust="spacingAndGlyphs">600</text>
<text x="74.99" y="490.52" font-size="14.20" textLength="24.85" lengthAdjust="spacingAndGlyphs">700</text>
<text x="74.92" y="518.51" font-size="14.20" textLength="24.92" lengthAdjust="spacingAndGlyphs">800</text>
<text x="74.79" y="543.19" font-size="14.20" textLength="25.06" lengthAdjust="spacingAndGlyphs">900</text>
<text x="66.47" y="565.27" font-size="14.20" textLength="33.37" lengthAdjust="spacingAndGlyphs">1000</text>
<text x="96.79" y="590.30" font-size="14.20" textLength="27.30" lengthAdjust="spacingAndGlyphs">−40</text>
<text x="156.74" y="590.30" font-size="14.20" textLength="27.30" lengthAdjust="spacingAndGlyphs">−30</text>
<text x="216.69" y="590.30" font-size="14.20" textLength="27.30" lengthAdjust="spacingAndGlyphs">−20</text>
<text x="276.64" y="590.30" font-size="14.20" textLength="27.30" lengthAdjust="spacingAndGlyphs">−10</text>
<text x="346.14" y="590.30" font-size="14.20" textLength="7.83" lengthAdjust="spacingAndGlyphs">0</text>
<text x="401.86" y="590.30" font-size="14.20" textLength="16.33" lengthAdjust="spacingAndGlyphs">10</text>
<text x="461.69" y="590.30" font-size="14.20" textLength="16.45" lengthAdjust="spacingAndGlyphs">20</text>
<text x="521.86" y="590.30" font-size="14.20" textLength="16.22" lengthAdjust="spacingAndGlyphs">30</text>
<text x="581.66" y="590.30" font-size="14.20" textLength="16.37" lengthAdjust="spacingAndGlyphs">40</text>
<text x="641.74" y="590.30" font-size="14.20" textLength="16.24" lengthAdjust="spacingAndGlyphs">50</text>
<text x="701.42" y="590.30" font-size="14.20" textLength="16.51" lengthAdjust="spacingAndGlyphs">60</text>
</g>
<g font-family="Liberation Sans, sans-serif" fill="#000">
<text x="19.48" y="31.30" font-size="20.20" textLength="68.99" lengthAdjust="spacingAndGlyphs">Station</text>
<text x="95.46" y="31.30" font-size="20.20" textLength="67.94" lengthAdjust="spacingAndGlyphs">2TDJJ8J</text>
<text x="170.46" y="31.30" font-size="20.20" textLength="19.12" lengthAdjust="spacingAndGlyphs">at</text>
<text x="196.62" y="31.30" font-size="20.20" textLength="23.90" lengthAdjust="spacingAndGlyphs">10</text>
<text x="227.45" y="31.30" font-size="20.20" textLength="38.11" lengthAdjust="spacingAndGlyphs">UTC</text>
<text x="272.58" y="31.30" font-size="20.20" textLength="24.02" lengthAdjust="spacingAndGlyphs">08</text>
<text x="303.32" y="31.30" font-size="20.20" textLength="34.07" lengthAdjust="spacingAndGlyphs">Apr</text>
<text x="343.56" y="31.30" font-size="20.20" textLength="48.63" lengthAdjust="spacingAndGlyphs">2025</text>
<text x="19.84" y="48.70" font-size="13.90" textLength="74.32" lengthAdjust="spacingAndGlyphs">Polarstern,</text>
<text x="98.56" y="48.70" font-size="13.90" textLength="63.47" lengthAdjust="spacingAndGlyphs">Germany</text>
<text x="19.78" y="64.80" font-size="13.90" textLength="61.59" lengthAdjust="spacingAndGlyphs">Latitude:</text>
<text x="86.41" y="64.80" font-size="13.90" textLength="47.49" lengthAdjust="spacingAndGlyphs">38.202</text>
<text x="138.99" y="64.80" font-size="13.90" textLength="73.44" lengthAdjust="spacingAndGlyphs">Longitude:</text>
<text x="217.01" y="64.80" font-size="13.90" textLength="53.20" lengthAdjust="spacingAndGlyphs">-11.573</text>
<text x="502.30" y="631.00" font-size="13.24" textLength="62.96" lengthAdjust="spacingAndGlyphs">University</text>
<text x="569.66" y="631.00" font-size="13.24" textLength="12.24" lengthAdjust="spacingAndGlyphs">of</text>
<text x="586.01" y="631.00" font-size="13.24" textLength="58.32" lengthAdjust="spacingAndGlyphs">Wyoming</text>
<text x="648.63" y="631.00" font-size="13.24" textLength="78.40" lengthAdjust="spacingAndGlyphs">Atmospheric</text>
<text x="731.64" y="631.00" font-size="13.24" textLength="48.37" lengthAdjust="spacingAndGlyphs">Science</text>
</g>
</svg></body></html>
